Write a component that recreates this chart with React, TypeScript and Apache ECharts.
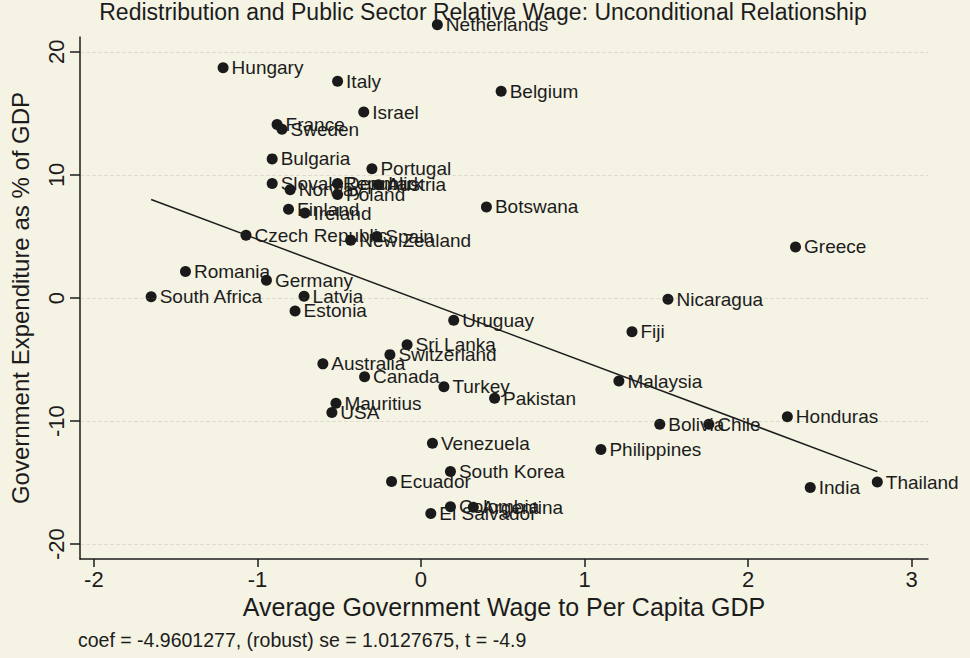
import React, { useEffect, useRef } from "react";
import * as echarts from "echarts";

const countries = [
  "Netherlands", "Hungary", "Italy", "Belgium", "Israel", "France", "Sweden", "Bulgaria",
  "Portugal", "Slovak Republic", "Norway", "Denmark", "Poland", "Austria", "Finland", "Ireland",
  "Czech Republic", "Spain", "New Zealand", "Botswana", "Greece", "Romania", "Germany",
  "South Africa", "Latvia", "Estonia", "Nicaragua", "Uruguay", "Fiji", "Sri Lanka",
  "Switzerland", "Australia", "Canada", "Turkey", "Malaysia", "Pakistan", "Mauritius", "USA",
  "Honduras", "Bolivia", "Chile", "Venezuela", "Philippines", "South Korea", "Ecuador",
  "India", "Thailand", "Colombia", "Argentina", "El Salvador",
];
const wageRatio = [
  0.1, -1.21, -0.51, 0.49, -0.35, -0.88, -0.85, -0.91,
  -0.3, -0.91, -0.8, -0.51, -0.51, -0.26, -0.81, -0.71,
  -1.07, -0.27, -0.43, 0.4, 2.29, -1.44, -0.945,
  -1.65, -0.715, -0.77, 1.51, 0.2, 1.29, -0.085,
  -0.19, -0.6, -0.345, 0.14, 1.21, 0.45, -0.52, -0.545,
  2.24, 1.46, 1.76, 0.07, 1.1, 0.18, -0.18,
  2.38, 2.79, 0.18, 0.32, 0.06,
];
const govExp = [
  22.2, 18.7, 17.6, 16.8, 15.1, 14.1, 13.7, 11.3,
  10.5, 9.3, 8.8, 9.3, 8.4, 9.2, 7.2, 6.9,
  5.1, 5.0, 4.7, 7.4, 4.15, 2.15, 1.45,
  0.1, 0.15, -1.05, -0.1, -1.8, -2.75, -3.8,
  -4.6, -5.35, -6.4, -7.2, -6.75, -8.15, -8.55, -9.3,
  -9.65, -10.25, -10.25, -11.8, -12.3, -14.1, -14.9,
  -15.4, -14.95, -16.95, -17.0, -17.5,
];
const fitLine = [
  [-1.65, 8.0],
  [2.79, -14.1],
];
const xTicks = [-2, -1, 0, 1, 2, 3];
const yTicks = [-20, -10, 0, 10, 20];

const titleText = "Redistribution and Public Sector Relative Wage: Unconditional Relationship";
const footerText = "coef = -4.9601277, (robust) se = 1.0127675, t = -4.9";
const xTitle = "Average Government Wage to Per Capita GDP";
const yTitle = "Government Expenditure as % of GDP";

const FONT = "'Liberation Sans', Arial, Helvetica, sans-serif";
const INK = "#1c1c1c";

export default function App() {
  const ref = useRef<HTMLDivElement>(null);
  useEffect(() => {
    document.body.style.margin = "0";
    const chart = echarts.init(ref.current!, null, { renderer: "svg" });
    const points = countries.map((c, i) => ({ name: c, value: [wageRatio[i], govExp[i]] }));
    chart.setOption({
      animation: false,
      backgroundColor: "#f4f3e4",
      textStyle: { fontFamily: FONT },
      grid: { left: 78, right: 42, top: 37, bottom: 99, containLabel: false },
      graphic: [
        {
          type: "text",
          x: 483,
          y: 12,
          style: {
            text: titleText,
            fontSize: 23,
            fontFamily: FONT,
            fill: INK,
            align: "center",
            verticalAlign: "middle",
          },
        },
        {
          type: "text",
          x: 78,
          y: 640,
          style: {
            text: footerText,
            fontSize: 19.5,
            fontFamily: FONT,
            fill: INK,
            align: "left",
            verticalAlign: "middle",
          },
        },
      ],
      xAxis: {
        type: "value",
        min: -2.085,
        max: 3.1,
        name: xTitle,
        nameLocation: "middle",
        nameGap: 33,
        nameTextStyle: { fontSize: 25, color: INK, fontFamily: FONT },
        axisLine: { show: true, onZero: false, lineStyle: { color: INK, width: 1.5 } },
        axisTick: { show: true, length: 8, customValues: xTicks, lineStyle: { color: INK, width: 1.5 } },
        axisLabel: { customValues: xTicks, fontSize: 22, color: INK, margin: 9, fontFamily: FONT },
        splitLine: { show: false },
      },
      yAxis: {
        type: "value",
        min: -21.2,
        max: 21.2,
        name: yTitle,
        nameLocation: "middle",
        nameRotate: 90,
        nameGap: 48,
        nameTextStyle: { fontSize: 24, color: INK, fontFamily: FONT },
        axisLine: { show: true, onZero: false, lineStyle: { color: INK, width: 1.5 } },
        axisTick: { show: true, length: 10, customValues: yTicks, lineStyle: { color: INK, width: 1.5 } },
        axisLabel: { customValues: yTicks, rotate: 90, fontSize: 22, color: INK, margin: 13, fontFamily: FONT },
        splitLine: { show: false },
      },
      series: [
        {
          type: "line",
          data: fitLine,
          showSymbol: false,
          symbol: "none",
          lineStyle: { color: INK, width: 1.5 },
          silent: true,
          markLine: {
            silent: true,
            symbol: "none",
            label: { show: false },
            lineStyle: { color: "rgba(120,120,110,0.18)", type: "dashed", width: 1 },
            data: yTicks.map((v) => ({ yAxis: v })),
          },
          z: 1,
        },
        {
          type: "scatter",
          data: points,
          symbolSize: 11,
          clip: false,
          itemStyle: { color: "#1a1a1a", opacity: 1 },
          label: {
            show: true,
            position: "right",
            distance: 3,
            formatter: "{b}",
            fontSize: 19,
            color: INK,
            fontFamily: FONT,
          },
          labelLayout: { hideOverlap: false },
          z: 3,
        },
      ],
    });
    return () => chart.dispose();
  }, []);
  return <div ref={ref} style={{ width: 970, height: 658 }} />;
}
